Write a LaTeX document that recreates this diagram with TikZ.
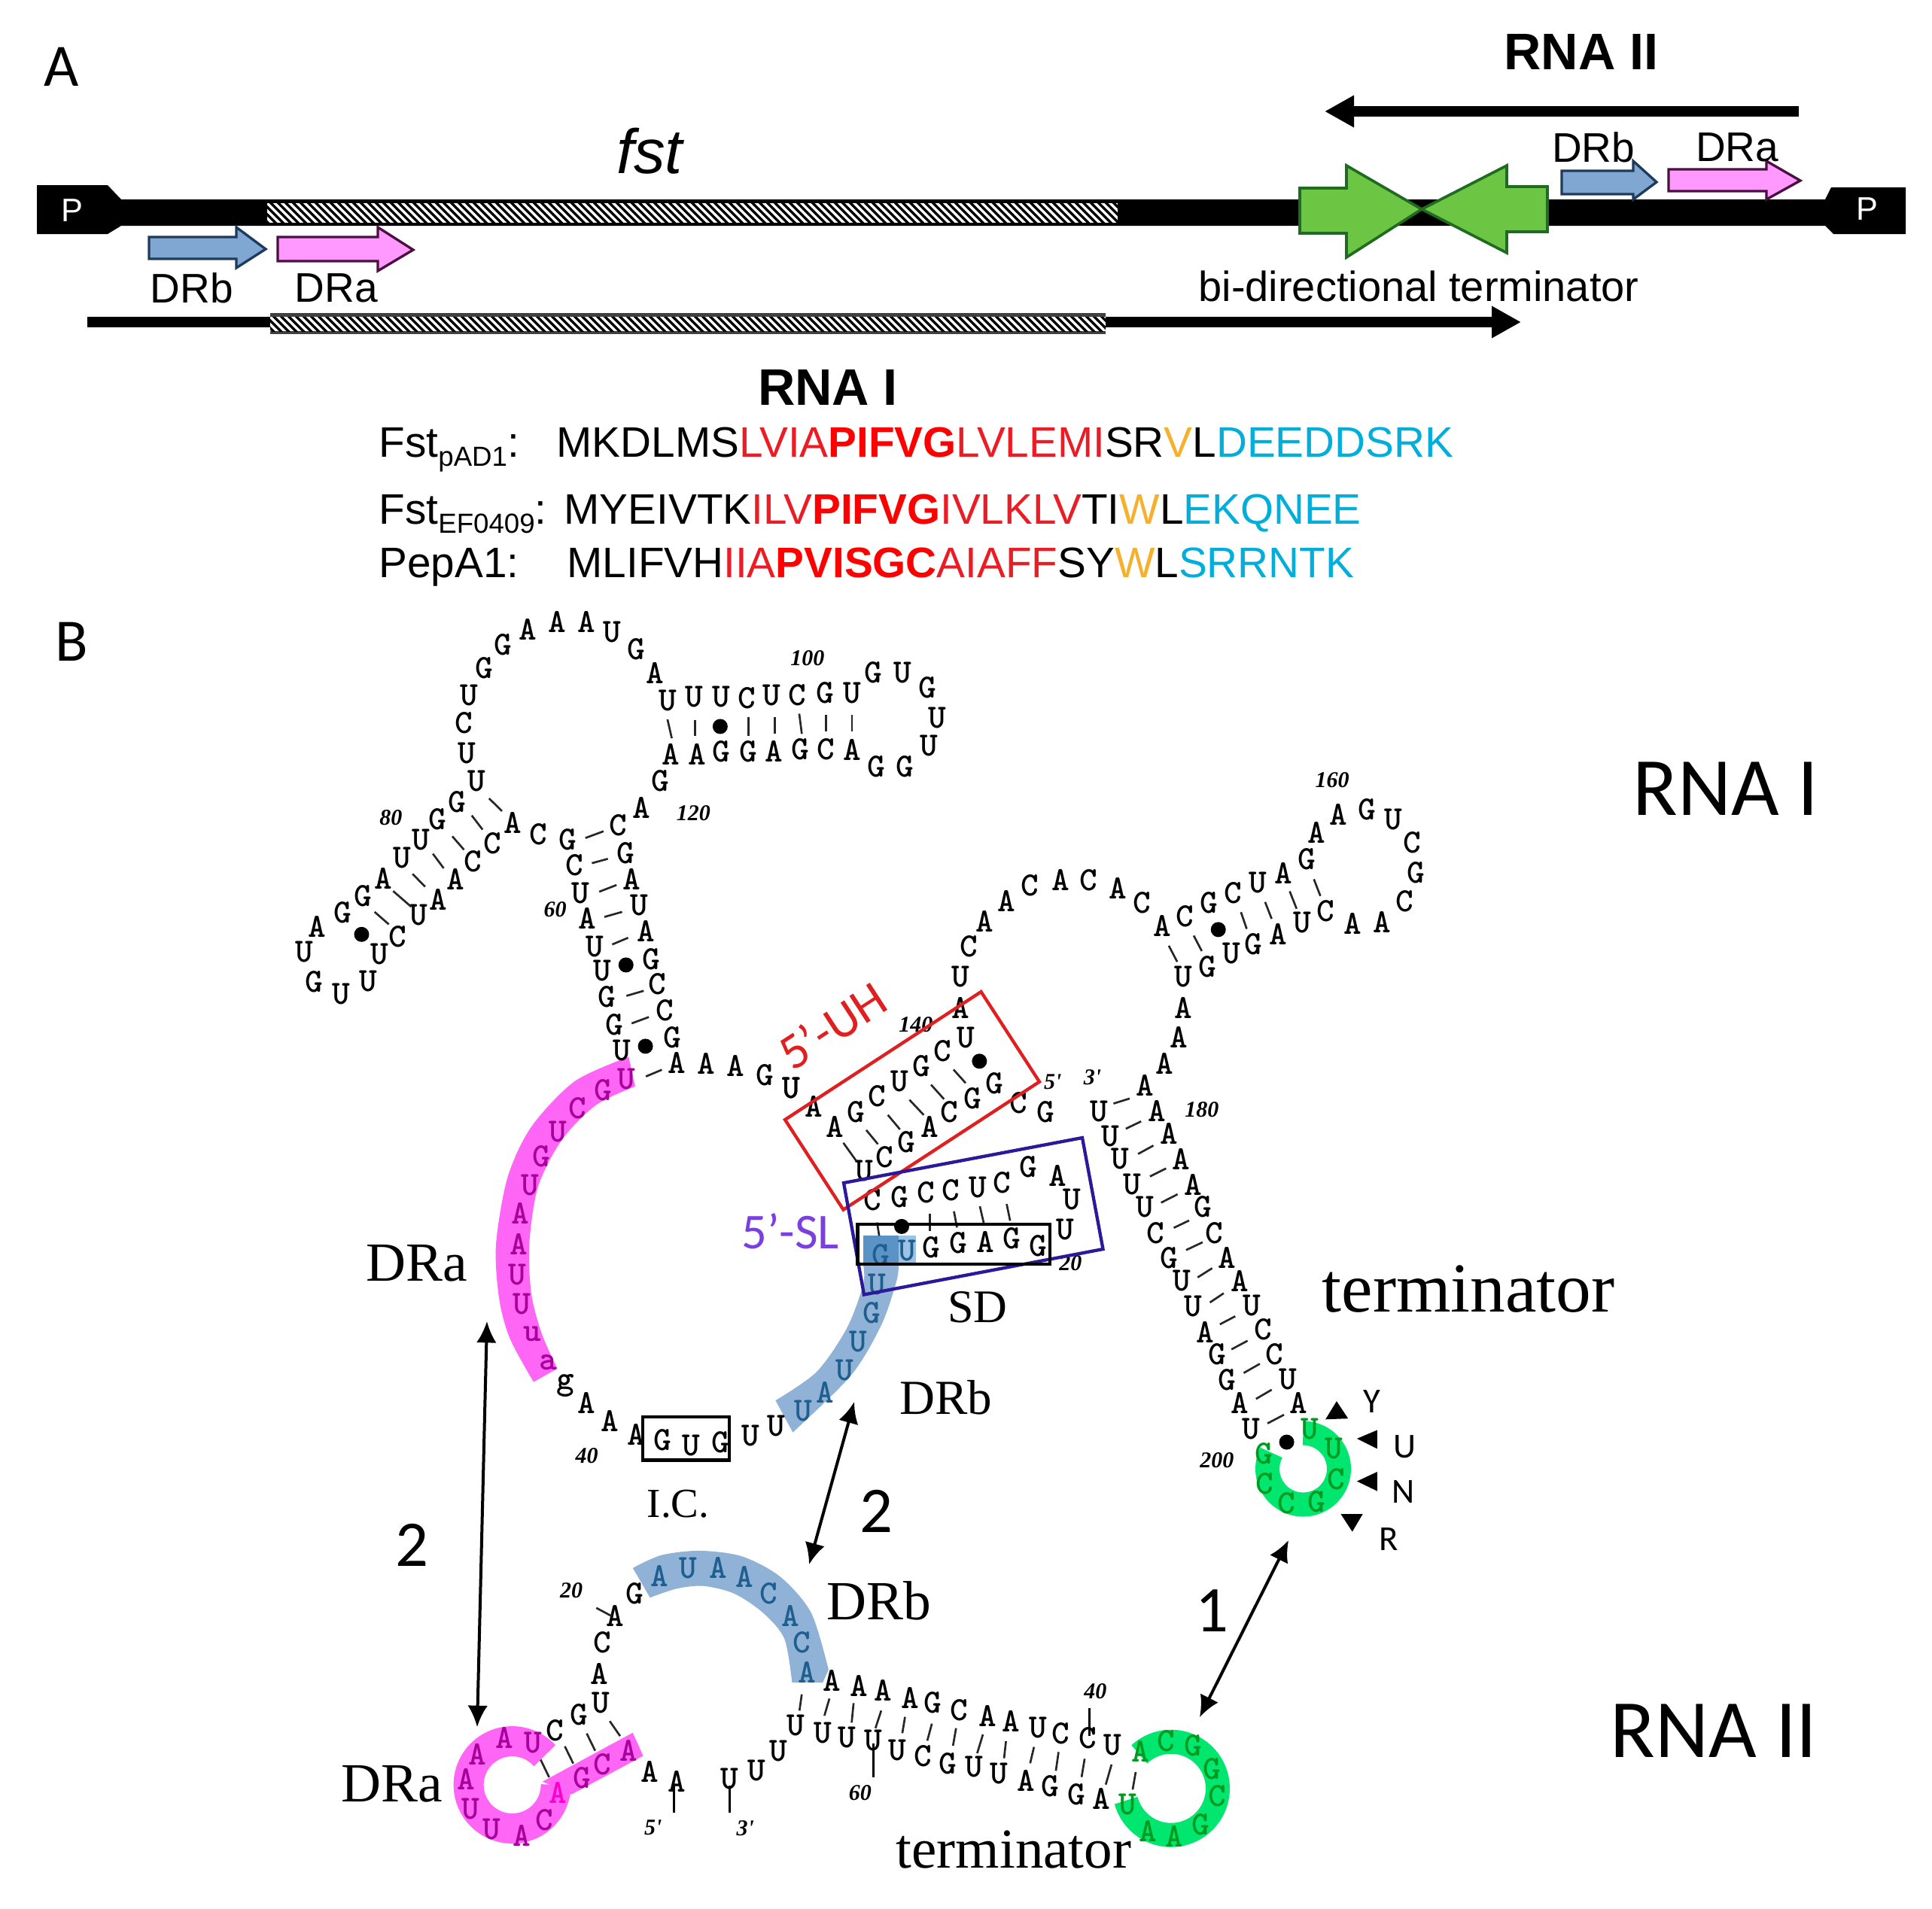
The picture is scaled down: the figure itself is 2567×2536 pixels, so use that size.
\documentclass[tikz,border=0pt]{standalone}
\usepackage{fontspec}
\usetikzlibrary{arrows.meta}
\newfontfamily\arialf{Liberation Sans}
\newfontfamily\timesf{Liberation Serif}
\newfontfamily\calf{Carlito}
\definecolor{hlpink}{HTML}{FF66F5}
\definecolor{hlblue}{HTML}{8FB2D6}
\definecolor{hlblued}{HTML}{5B93C7}
\definecolor{hlbluel}{HTML}{9CC3E6}
\definecolor{hlgreen}{HTML}{00E66E}
\definecolor{ntpink}{HTML}{A8009A}
\definecolor{ntbright}{HTML}{FF00CC}
\definecolor{ntblue}{HTML}{1F5F8F}
\definecolor{ntgreen}{HTML}{009A20}
\definecolor{seqred}{HTML}{EC1C24}
\definecolor{seqorange}{HTML}{F5B02D}
\definecolor{seqcyan}{HTML}{00AEDB}
\definecolor{slpurple}{HTML}{7B3FE0}
\definecolor{boxpurple}{HTML}{2A1A9A}
\definecolor{boxred}{HTML}{E02020}
\definecolor{termgreen}{HTML}{6CC644}
\definecolor{termedge}{HTML}{1F6B1F}
\definecolor{drbfill}{HTML}{7FA7D2}
\definecolor{drbedge}{HTML}{1F3B5C}
\definecolor{drafill}{HTML}{FF99FF}
\definecolor{draedge}{HTML}{4A1040}
\tikzset{
  nt/.style={font=\fontsize{13.5}{13.5}\selectfont\ttfamily\bfseries,inner sep=0pt},
  ntP/.style={nt,text=ntpink},
  ntB/.style={nt,text=ntblue},
  ntG/.style={nt,text=ntgreen},
  posnum/.style={font=\fontsize{9}{9}\selectfont\timesf\itshape\bfseries,inner sep=0pt},
  bp/.style={line width=.8pt,black!85},
  longtick/.style={line width=.9pt,black},
  bpdot/.style={circle,fill=black,inner sep=0pt,minimum size=6pt},
  calib/.style={font=\fontsize{#1}{#1}\selectfont\calf,inner sep=0pt},
  timesl/.style={font=\fontsize{#1}{#1}\selectfont\timesf,inner sep=0pt},
  arial/.style={font=\fontsize{#1}{#1}\selectfont\arialf,inner sep=0pt},
  seqtext/.style={font=\fontsize{17}{17}\selectfont\arialf,inner sep=0pt,anchor=base west},
  darrow/.style={line width=1.2pt,{Latex[length=8.5pt,width=8pt]}-{Latex[length=8.5pt,width=8pt]}},
  rnaarrow/.style={line width=4.1pt,-{Triangle[length=11.7pt,width=12pt]}},
  drb/.style={fill=drbfill,draw=drbedge,line width=1pt},
  dra/.style={fill=drafill,draw=draedge,line width=1pt},
  termarrow/.style={fill=termgreen,draw=termedge,line width=1.1pt},
  hatchline/.style={line width=1pt,black},
}
\newcommand\ntlist[3]{\foreach \px/\py/\tx [count=\i] in {#3} {\node[#2] (#1\i) at (\px,\py) {\tx};}}
\newcommand\bplist[1]{\foreach \ax/\ay/\bx/\by in {#1} {\draw[bp] (\ax,\ay) -- (\bx,\by);}}
\newcommand\poslist[2]{\foreach \px/\py/\tx [count=\i] in {#2} {\node[posnum] (#1\i) at (\px,\py) {\tx};}}
\newcommand\dotlist[2]{\foreach \px/\py [count=\i] in {#2} {\node[bpdot] (#1\i) at (\px,\py) {};}}
\newcommand\hatchrect[4]{%
  \begin{scope}\clip (#1,#2) rectangle (#3,#4);
  \fill[white] (#1,#2) rectangle (#3,#4);
  \pgfmathtruncatemacro\hnext{#1+10}\pgfmathtruncatemacro\hend{#3+45}
  \foreach \k in {#1,\hnext,...,\hend}{\draw[hatchline] (\k-40,#2-5) -- ++(50,50);}
  \end{scope}}
\begin{document}
\begin{tikzpicture}[x=.3pt,y=-.3pt]
\useasboundingbox (0,0) rectangle (2567,2536);
\fill[white] (0,0) rectangle (2567,2536);

%% ---------- Panel A ----------
\node[calib=24] (lA) at (82,89) {A};
\node[calib=24] (lB) at (95,853) {B};
\node[font=\fontsize{25}{25}\selectfont\arialf\itshape,inner sep=0pt] (fst) at (863,201) {fst};

\fill[black] (49,246) -- (143,246) -- (161,265) -- (2425,265) -- (2433,249) -- (2532,249) -- (2532,311) -- (2436,311) -- (2425,300) -- (161,300) -- (143,311) -- (49,311) -- cycle;
\node[arial=13,text=white] (pl) at (96,280) {P};
\node[arial=13,text=white] (pr) at (2481,278) {P};
\hatchrect{355}{270}{1485}{296}

\node[font=\fontsize{20.5}{20.5}\selectfont\arialf\bfseries,inner sep=0pt] (rna2t) at (2101,69) {RNA II};
\coordinate (r2a) at (2390,148); \coordinate (r2b) at (1760,148);
\draw[rnaarrow] (r2a) -- (r2b);

\coordinate (r1a) at (116,428); \coordinate (r1b) at (2021,428);
\draw[rnaarrow] (r1a) -- (r1b);
\fill[black!75] (359,416) rectangle (1469,444);
\hatchrect{359}{421}{1469}{440}
\node[font=\fontsize{20.5}{20.5}\selectfont\arialf\bfseries,inner sep=0pt] (rna1t) at (1100,515) {RNA I};

\draw[drb] (198,315) -- (314,315) -- (314,302) -- (353,331) -- (314,356) -- (314,344) -- (198,344) -- cycle;
\draw[dra] (369,315) -- (502,315) -- (502,302) -- (549,332) -- (502,360) -- (502,347) -- (369,347) -- cycle;
\draw[drb] (2075,227) -- (2170,227) -- (2170,214) -- (2201,242) -- (2170,265) -- (2170,258) -- (2075,258) -- cycle;
\draw[dra] (2217,225) -- (2347,225) -- (2347,214) -- (2392,240) -- (2347,265) -- (2347,254) -- (2217,254) -- cycle;
\node[arial=16.5] (drb1) at (255,383) {DRb};
\node[arial=16.5] (dra1) at (447,383) {DRa};
\node[arial=16.5] (drb2) at (2117,196) {DRb};
\node[arial=16.5] (dra2) at (2308,196) {DRa};

\draw[termarrow] (1727,250) -- (1789,250) -- (1789,220) -- (1889,278) -- (1789,342) -- (1789,310) -- (1727,310) -- cycle;
\draw[termarrow] (2056,248) -- (2002,248) -- (2002,220) -- (1889,278) -- (2002,336) -- (2002,308) -- (2056,308) -- cycle;
\node[arial=16.8] (bidi) at (1885,380) {bi-directional terminator};

\node[seqtext] (f1) at (503,607) {Fst\raisebox{-3.6pt}{\fontsize{11}{11}\selectfont pAD1}:};
\node[seqtext] (f2) at (503,696) {Fst\raisebox{-3.6pt}{\fontsize{11}{11}\selectfont EF0409}:};
\node[seqtext] (f3) at (503,767) {PepA1:};
\node[seqtext] (s1) at (739,607) {MKDLMS\textcolor{seqred}{LVIA\textbf{\textcolor{red}{PIFVG}}LVLEMI}SR\textcolor{seqorange}{V}L\textcolor{seqcyan}{DEEDDSRK}};
\node[seqtext] (s2) at (749,696) {MYEIVTK\textcolor{seqred}{ILV\textbf{\textcolor{red}{PIFVG}}IVLKLV}TI\textcolor{seqorange}{W}L\textcolor{seqcyan}{EKQNEE}};
\node[seqtext] (s3) at (753,767) {MLIFVH\textcolor{seqred}{IIA\textbf{\textcolor{red}{PVISGC}}AIAFF}SY\textcolor{seqorange}{W}L\textcolor{seqcyan}{SRRNTK}};

%% ---------- Panel B highlights ----------
\begin{scope}[shift={(620,1350)},xscale=.574,yscale=.4464]
  \fill[hlpink] plot[smooth] coordinates {(375,122) (250,195) (150,330) (95,480) (68,680) (75,840) (100,960) (155,1090)}
     -- plot[smooth] coordinates {(210,1050) (175,950) (150,830) (145,680) (165,510) (220,370) (300,265) (390,210)} -- cycle;
  \fill[hlblue] plot[smooth] coordinates {(1000,740) (995,790) (960,920) (890,1070) (755,1240)}
     -- plot[smooth] coordinates {(715,1145) (810,1060) (880,930) (918,800) (918,740)} -- cycle;
  \fill[hlbluel] (1000,655) rectangle (1040,740);
  \fill[hlblued] (918,655) rectangle (1000,740);
\end{scope}
\draw[hlgreen,line width=9.6pt] plot[domain=-90:207,samples=60] ({1731.5+47.5*cos(\x)},{1952+47.5*sin(\x)});
\begin{scope}[shift={(420,2000)},xscale=.51,yscale=.342]
  \fill[hlblue] plot[smooth] coordinates {(825,245) (900,195) (1000,178) (1110,200) (1210,280) (1290,420) (1335,640)}
    -- (1320,690) -- (1240,690) -- plot[smooth] coordinates {(1240,690) (1220,520) (1165,420) (1090,345) (1010,315) (940,325) (870,360)} -- cycle;
  \fill[hlpink] (590,1075) -- (825,885) -- (852,975) -- (665,1125) -- cycle;
\end{scope}
\draw[hlpink,line width=12pt] plot[domain=-42:-360,samples=60] ({680.6+58*cos(\x)},{2372+58*sin(\x)});
\draw[hlgreen,line width=9.6pt] plot[domain=-133:165,samples=60] ({1556+62*cos(\x)},{2376.7+62*sin(\x)});

%% ---------- Upper-left domain (frame of crop 3) ----------
\begin{scope}[shift={(380,790)},xscale=.574,yscale=.4464]
\ntlist{ua}{nt}{503/150/G,560/105/A,627/82/A,695/82/A,755/112/U,810/163/G,855/233/A,458/218/G,424/300/U,411/382/C,418/472/U,442/555/U,
884/315/U,945/305/U,1007/305/U,1067/308/C,1125/300/U,1184/300/C,1248/293/G,1310/293/U,1360/232/G,1428/232/U,1484/277/G,1507/367/U,1489/450/U,1432/512/G,1366/512/G,1310/462/A,1250/460/C,1190/460/G,1130/468/A,1070/468/G,1007/468/G,952/477/A,890/475/A,867/555/G,822/635/A,
768/688/C,652/730/G,668/805/C,682/890/U,698/965/A,715/1048/U,732/1120/U,743/1198/G,760/1280/G,777/1357/U,
787/770/G,800/847/A,817/925/U,833/1002/A,845/1085/G,860/1160/C,877/1238/C,895/1318/G,
905/1395/A,973/1397/A,1040/1403/A,1108/1430/G,1170/1470/U,
525/680/A,585/715/C,478/740/C,432/795/C,392/848/A,352/908/A,308/955/U,258/1018/C,216/1070/U,
396/617/G,350/670/G,312/730/U,268/785/U,225/845/A,178/897/G,132/948/G,72/988/A,43/1063/U,65/1153/G,127/1190/U,190/1152/U}
\bplist{470/607/500/645,430/658/455/700,385/720/412/760,340/772/365/815,293/832/322/870,248/883/290/930,205/945/238/982,
693/725/735/705,708/800/745/787,725/885/765/865,737/960/778/945,755/1042/792/1022,788/1195/828/1180,800/1277/840/1258,833/1435/870/1415,
883/372/893/428,947/375/947/420,1070/365/1070/420,1131/365/1131/415,1188/355/1194/415,1250/358/1250/408,1310/358/1310/408}
\dotlist{ud}{1005/393,175/1012,787/1103,832/1345}
\poslist{up}{1207/190/100,243/665/80,943/652/120,623/938/60,1458/1280/140}
\end{scope}

%% ---------- Upper-right domain (frame of crop 4) ----------
\begin{scope}[shift={(1200,980)},xscale=.51,yscale=.4464]
\ntlist{ub}{nt}{150/805/A,150/713/U,172/622/C,213/548/A,270/487/A,330/440/C,410/425/A,482/425/C,560/450/A,622/493/C,675/562/A,733/532/C,797/493/G,860/462/C,925/433/U,990/405/A,1052/362/G,1077/283/A,1134/230/A,1208/215/G,1278/243/U,1327/312/C,1335/403/G,1307/487/C,1248/550/A,1172/555/A,1100/517/C,1040/552/U,977/585/A,913/615/G,856/643/U,793/682/G,730/712/U,730/805/A,718/893/A,680/970/A,630/1037/A,
510/1113/U,662/1113/A,540/1187/U,692/1180/A,566/1255/U,725/1255/A,597/1330/U,755/1332/A,630/1398/U,780/1398/G,658/1475/C,810/1475/C}
\bplist{692/620/714/668,757/590/778/636,880/520/895/570,943/490/960/540,1007/458/1025/510,1070/422/1087/472,
548/1090/590/1075,580/1165/620/1143,612/1240/652/1215,643/1307/685/1283,672/1385/715/1360,705/1460/745/1438}
\poslist{ue}{1118/127/160,778/1108/180,390/1025/5',493/1012/3'}
\dotlist{uf}{821/572}
\end{scope}

%% ---------- Central loop (frame of crop 5) ----------
\begin{scope}[shift={(620,1350)},xscale=.574,yscale=.4464]
\ntlist{mp}{ntP}{370/187/U,315/222/G,256/275/C,212/345/U,173/418/G,147/503/U,124/587/A,120/680/A,117/770/U,128/857/U,152/948/u,188/1032/a}
\ntlist{mc}{nt}{228/1100/g,277/1153/A,332/1207/A,393/1247/A,453/1263/G,520/1280/U,588/1270/G,657/1250/U,717/1220/U,
752/215/U,803/270/A,853/330/A,902/285/G,950/240/C,1003/195/U,1053/150/G,1102/105/C,1155/65/U,
1072/330/A,1118/285/C,1172/245/G,1222/200/G,1277/260/C,1340/285/G,1018/375/G,968/420/C,920/462/U,
940/548/C,1003/540/G,1063/525/C,1120/518/C,1183/510/U,1240/497/C,1300/450/G,1368/475/A,1402/547/U,1385/637/U,1323/685/G,1262/662/G,1200/672/A,1138/677/G,1075/690/G}
\ntlist{mb}{ntB}{780/1175/U,830/1122/A,875/1055/U,907/970/U,937/885/G,950/800/U,958/712/G,1020/698/U}
\bplist{872/378/902/432,925/340/952/382,975/295/1003/338,1025/250/1058/295,1075/205/1105/248,1127/160/1155/200,
950/615/955/655,1072/590/1072/640,1128/582/1135/630,1188/567/1197/617,1250/560/1258/610}
\dotlist{md}{1187/135,1007/627}
\poslist{mq}{278/1310/40,1398/737/20}
\end{scope}

%% boxes
\draw[boxred,line width=1.3pt] (1303.5,1318) -- (1381,1437.6) -- (1120.5,1607.6) -- (1043,1488) -- cycle;
\draw[boxpurple,line width=1.3pt] (1121,1572) -- (1438,1512) -- (1465.5,1660) -- (1148,1720.5) -- cycle;
\draw[black,line width=1.3pt] (1139.5,1627) rectangle (1395,1680);
\draw[black,line width=1.3pt] (854,1883) rectangle (969,1940.6);

%% ---------- Terminator stem, upper (frame of crop 6) ----------
\begin{scope}[shift={(1400,1600)},xscale=.51,yscale=.3827]
\ntlist{ta}{nt}{300/187/G,452/187/A,333/267/U,485/267/A,363/355/U,516/353/U,395/445/A,545/435/C,427/522/G,576/522/C,452/610/G,610/610/U,484/692/A,637/692/A,515/780/U}
\ntlist{tg}{ntG}{668/780/U,730/850/U,735/955/C,685/1035/G,607/1040/C,550/972/C,547/867/G}
\bplist{345/160/388/133,375/255/413/223,407/342/443/310,433/418/473/390,463/505/505/475,495/587/537/555,527/677/568/645,557/762/600/732}
\dotlist{td}{607/827}
\poslist{tp}{425/890/200}
\fill[black] (737,685) -- (708,748) -- (767,745) -- cycle;
\fill[black] (790,815) -- (843,785) -- (843,850) -- cycle;
\fill[black] (790,963) -- (843,930) -- (843,997) -- cycle;
\fill[black] (748,1077) -- (805,1077) -- (778,1138) -- cycle;
\node[calib=14] (yY) at (830,685) {Y};
\node[calib=14] (yU) at (915,843) {U};
\node[calib=14] (yN) at (910,1000) {N};
\node[calib=14] (yR) at (873,1163) {R};
\end{scope}

%% ---------- RNA II, left part (frame of crop 7) ----------
\begin{scope}[shift={(420,2000)},xscale=.51,yscale=.342]
\ntlist{la}{ntP}{565/925/U,490/905/A,420/970/A,390/1065/A,403/1180/U,458/1260/U,535/1285/A,595/1225/C,692/1062/G,745/1008/C,815/955/A}
\node[nt,text=ntbright] (lbr) at (630,1117) {A};
\ntlist{lc}{nt}{622/875/C,685/815/G,742/770/U,738/655/A,745/535/C,780/432/A,830/345/G,1148/1033/U,1077/1065/U,940/1073/A,870/1035/A}
\ntlist{lb}{ntB}{895/275/A,970/245/U,1048/245/A,1117/280/A,1180/345/C,1235/432/A,1265/533/C,1280/650/A}
\bplist{765/840/792/898,705/888/727/955,648/938/670/1005,585/990/607/1058,730/400/770/432}
\draw[longtick] (933,1090) -- (933,1195);
\draw[longtick] (1077,1090) -- (1077,1195);
\poslist{lp}{878/1255/5',1118/1255/3',665/333/20}
\end{scope}

%% ---------- RNA II, right part (frame of crop 8) ----------
\begin{scope}[shift={(1000,2100)},xscale=.51,yscale=.3333]
\ntlist{ra}{nt}{207/400/A,277/420/A,340/440/A,410/470/A,470/487/G,538/518/C,612/540/A,673/562/A,743/588/U,803/610/C,873/630/C,938/657/U,
908/870/A,843/853/G,775/822/G,713/800/A,642/770/U,578/745/U,508/730/G,443/700/C,377/678/U,315/640/U,245/628/U,182/608/U,112/578/U,67/680/U}
\ntlist{rg}{ntG}{1010/683/A,1077/640/C,1147/660/G,1197/753/G,1210/860/C,1167/975/G,1098/1022/A,1030/1000/A,977/895/U}
\bplist{128/455/122/520,200/472/187/540,263/490/258/568,335/520/320/590,397/545/390/610,467/572/455/640,530/590/522/660,600/615/585/690,660/642/655/710,733/665/723/730,797/685/790/760,865/712/857/785,935/735/920/815,998/765/990/835}
\draw[longtick] (877,510) -- (877,620);
\draw[longtick] (315,650) -- (315,785);
\poslist{rp}{893/443/40,280/848/60}
\end{scope}

%% ---------- Labels ----------
\node[calib=33] (rna1big) at (2293,1048) {RNA I};
\node[calib=33] (rna2big) at (2277,2300) {RNA II};
\node[timesl=22] (draU) at (554,1679) {DRa};
\node[timesl=19.5] (drbU) at (1257,1857) {DRb};
\node[timesl=18.6] (sd) at (1299,1737) {SD};
\node[timesl=16.5] (ic) at (901,1999) {I.C.};
\node[timesl=28] (termU) at (1951,1713) {terminator};
\node[timesl=22] (drbL) at (1168,2127) {DRb};
\node[timesl=22] (draL) at (521,2371) {DRa};
\node[timesl=22.5] (termL) at (1347,2458) {terminator};
\node[calib=20,text=slpurple] (sl) at (1050,1636) {5’-SL};
\node[calib=20,text=boxred,rotate=33] (uh) at (1106,1363) {5’-UH};
\node[calib=26] (two1) at (547,2053) {2};
\node[calib=26] (two2) at (1164,2008) {2};
\node[calib=26] (one) at (1610,2141) {1};

%% ---------- Interaction arrows ----------
\coordinate (a2t) at (647,1756); \coordinate (a2b) at (634,2295);
\coordinate (b2t) at (1135,1863); \coordinate (b2b) at (1075,2079);
\coordinate (c1t) at (1712,2047); \coordinate (c1b) at (1594,2282);
\draw[darrow] (a2t) -- (a2b);
\draw[darrow] (b2t) -- (b2b);
\draw[darrow] (c1t) -- (c1b);
\end{tikzpicture}
\end{document}
